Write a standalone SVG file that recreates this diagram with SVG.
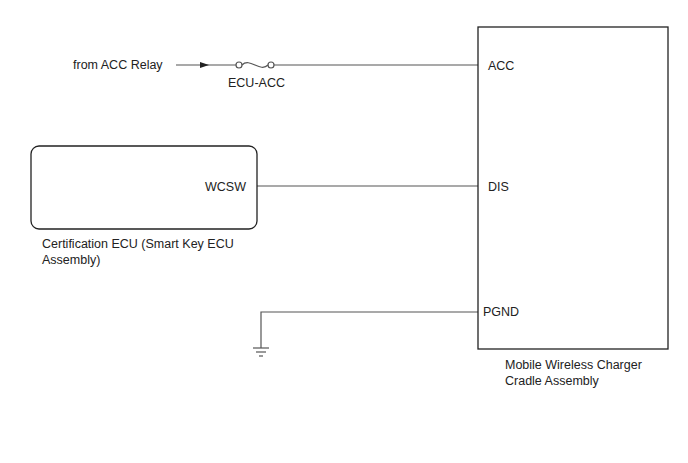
<svg xmlns="http://www.w3.org/2000/svg" width="688" height="463" viewBox="0 0 688 463">
<style>
text{font-family:"Liberation Sans",Arial,sans-serif;font-size:12.5px;fill:#222}
.w{stroke:#555;stroke-width:1.2;fill:none}
.b{stroke:#222;stroke-width:1.3;fill:#fff}
</style>
<rect width="688" height="463" fill="#fff"/>
<g id="connectors">
<line class="w" x1="176" y1="65" x2="236" y2="65"/>
<path d="M200,62 L209,65 L200,68 Z" fill="#222"/>
<circle class="w" cx="239" cy="65" r="3" fill="#fff"/>
<circle class="w" cx="271" cy="65" r="3" fill="#fff"/>
<path class="w" d="M242,65 C250,57 260,73 268,65"/>
<line class="w" x1="274" y1="65" x2="478" y2="65"/>
<line class="w" x1="257" y1="186" x2="478" y2="186"/>
<polyline class="w" points="478,312 261,312 261,348"/>
<line class="w" x1="253" y1="348" x2="269" y2="348"/>
<line class="w" x1="256" y1="352" x2="266" y2="352"/>
<line class="w" x1="259" y1="356" x2="263" y2="356"/>
</g>
<text x="73" y="69">from ACC Relay</text>
<text x="228" y="87">ECU-ACC</text>
<g id="ecu">
<rect class="b" x="31" y="146" width="226" height="83" rx="8"/>
<text x="205" y="191">WCSW</text>
<text x="42" y="248">Certification ECU (Smart Key ECU</text>
<text x="42" y="264">Assembly)</text>
</g>
<g id="charger">
<rect class="b" x="478" y="27" width="190" height="322"/>
<text x="488" y="70">ACC</text>
<text x="488" y="191">DIS</text>
<text x="483" y="316">PGND</text>
<text x="505" y="369">Mobile Wireless Charger</text>
<text x="505" y="385">Cradle Assembly</text>
</g>
</svg>
